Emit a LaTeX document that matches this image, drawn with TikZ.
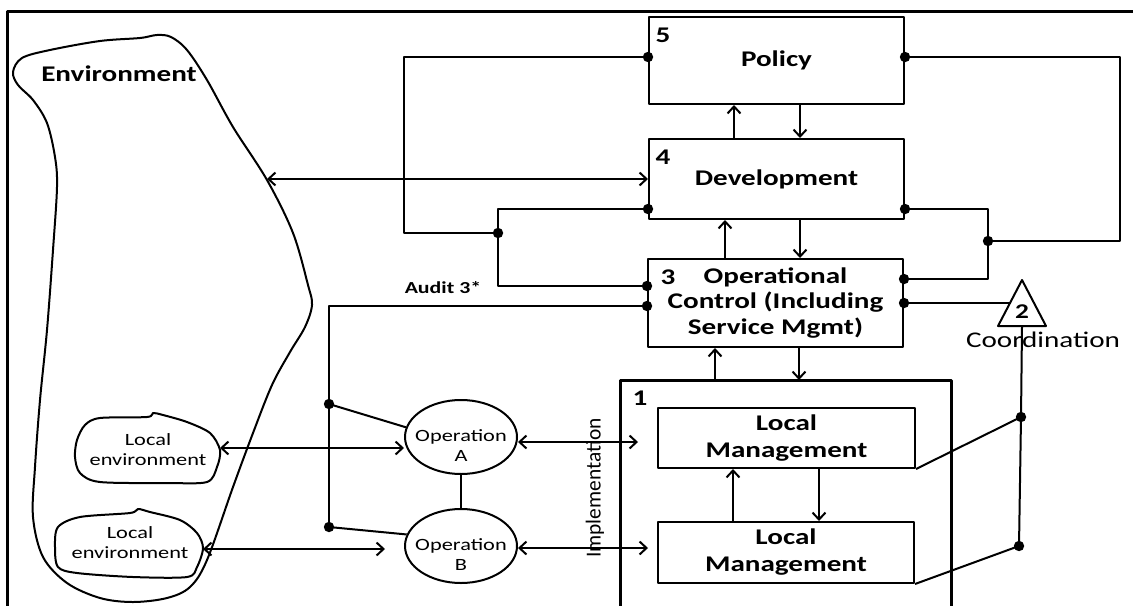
\documentclass[tikz,border=0pt]{standalone}
\usepackage{fontspec}
\setmainfont[FakeStretch=1.3]{Carlito}
\newfontfamily\labelfont{Carlito}
\usetikzlibrary{shapes.geometric,arrows.meta,calc}

\begin{document}
\begin{tikzpicture}[x=0.5pt,y=-0.5pt,
  line width=1pt, line join=round,
  >={Straight Barb[length=3.5pt,width=6.5pt]},
  sysbox/.style={draw, line width=1pt, inner sep=0pt, align=center,
    font=\fontsize{11.2}{13.5}\selectfont\bfseries},
  num/.style={inner sep=0pt, font=\fontsize{11.2}{13}\selectfont\bfseries},
  title/.style={inner sep=0pt, font=\fontsize{11.2}{13}\selectfont\bfseries},
  small/.style={inner sep=0pt, align=center, font=\fontsize{8.6}{10}\selectfont},
  opell/.style={draw, ellipse, minimum width=56pt, minimum height=37pt, inner sep=0pt},
  blob/.style={draw, line width=1pt},
]
\useasboundingbox (0,0) rectangle (1133,605);
\clip (0,0) rectangle (1133,605);

% frame
\draw[line width=1.5pt] (7,615) -- (7,11) -- (1140,11);

% environment outline
\draw[blob] plot[smooth cycle, tension=0.55] coordinates {
  (13,72) (22,58) (50,50) (100,41) (140,38) (157,35) (171,37) (187,50)
  (207,80) (233,127) (267,180) (293,233) (308,285) (312,305) (305,327)
  (290,352) (272,385) (253,433) (233,487) (207,560) (190,587) (167,598)
  (133,602) (100,598) (67,583) (43,557) (33,517) (35,467) (40,400)
  (47,330) (53,250) (57,187) (55,157) (47,123) (33,100) (18,85)};
\node[title] (envlabel) at (119,74) {Environment};

% local environments
\draw[blob] plot[smooth cycle, tension=0.5] coordinates {
  (77,440) (85,425) (100,418) (147,417) (153,413) (163,415) (187,422)
  (210,433) (220,450) (217,467) (207,482) (167,483) (100,482) (80,473) (75,457)};
\node[small] (leA) at (148,450) {Local\\environment};
\draw[blob] plot[smooth cycle, tension=0.5] coordinates {
  (55,547) (58,527) (80,517) (130,513) (138,509) (150,512) (180,520)
  (197,533) (203,548) (197,567) (187,577) (133,577) (77,573) (58,567)};
\node[small] (leB) at (130,543) {Local\\environment};

% system boxes
\node[sysbox, minimum width=127.5pt, minimum height=43.5pt] (pol) at (776.5,60.5) {Policy};
\node[sysbox, minimum width=127.5pt, minimum height=40pt] (dev) at (776.5,179) {Development};
\node[sysbox, minimum width=127.5pt, minimum height=44pt,
  font=\fontsize{11.2}{12.75}\selectfont\bfseries] (opc) at (775.5,303)
  {Operational\\Control (Including\\Service Mgmt)};
\node[num] (n5) at (663,35) {5};
\node[num] (n4) at (663,157) {4};
\node[num] (n3) at (668,277) {3};

% implementation frame (system 1)
\coordinate (b1nw) at (620,380);
\coordinate (b1ne) at (951,380);
\draw[line width=1.5pt] (620,620) -- (b1nw) -- (b1ne) -- (951,620);
\node[num] (n1) at (640,398) {1};
\node[sysbox, minimum width=128.5pt, minimum height=30pt] (lma) at (786.5,438) {Local\\Management};
\node[sysbox, minimum width=128pt, minimum height=30.5pt] (lmb) at (786,552.5) {Local\\Management};
\node[inner sep=0pt, rotate=90, font=\labelfont\fontsize{10.7}{12}\selectfont] (impl) at (595,488)
  {Implementation};

% operations
\node[opell] (opa) at (461,437) {};
\node[small] (opaT) at (461,446) {Operation\\A};
\node[opell] (opb) at (461,546) {};
\node[small] (opbT) at (461,555) {Operation\\B};
\draw (opa) -- (opb);

% vertical channels
\coordinate (x734) at (734,0);
\coordinate (x800) at (800,0);
\coordinate (x725) at (725,0);
\coordinate (x715) at (715,0);
\coordinate (x799) at (799,0);
\coordinate (x733) at (733,0);
\coordinate (x819) at (819,0);
\draw[->] (dev.north -| x734) -- (pol.south -| x734);
\draw[->] (pol.south -| x800) -- (dev.north -| x800);
\draw[->] (opc.north -| x725) -- (dev.south -| x725);
\draw[->] (dev.south -| x800) -- (opc.north -| x800);
\draw[->] (b1nw -| x715) -- (opc.south -| x715);
\draw[->] (opc.south -| x799) -- (b1nw -| x799);
\draw[->] (lmb.north -| x733) -- (lma.south -| x733);
\draw[->] (lma.south -| x819) -- (lmb.north -| x819);

% attachment points
\coordinate (polL) at ([yshift=1.75pt]pol.west);
\coordinate (polR) at ([yshift=1.75pt]pol.east);
\coordinate (devL) at ([yshift=-15pt]dev.west);
\coordinate (devR) at ([yshift=-15pt]dev.east);
\coordinate (opL1) at ([yshift=8.5pt]opc.west);
\coordinate (opL2) at ([yshift=-1.5pt]opc.west);
\coordinate (opR1) at ([yshift=12pt]opc.east);
\coordinate (opR2) at (opc.east);

% left loops
\coordinate (lx1) at (404,0);
\coordinate (lx2) at (498,0);
\coordinate (jL) at (498,233);
\draw (polL) -| (lx1 |- jL) -- (jL);
\draw (devL) -| (lx2 |- opL1) -- (opL1);

% right loops
\coordinate (rx1) at (988,0);
\coordinate (rx2) at (1120,0);
\coordinate (jR) at (988,241);
\draw (polR) -| (rx2 |- jR) -- (jR);
\draw (devR) -| (rx1 |- opR1) -- (opR1);

% audit channel
\coordinate (jA) at (329,404);
\coordinate (jB) at (329,527);
\draw (opL2) -| (jB);
\draw (jA) -- (opa.170);
\draw (jB) -- (opb.168);
\node[title, font=\fontsize{8.4}{10}\selectfont\bfseries] (audit) at (443,288) {Audit 3*};

% coordination
\coordinate (tA) at (1022,280);
\coordinate (tL) at (998,326);
\coordinate (tR) at (1046,326);
\coordinate (tB) at (1022,326);
\draw (tA) -- (tL) -- (tR) -- cycle;
\node[num, font=\fontsize{10.5}{12}\selectfont\bfseries] (n2) at (1022,312) {2};
\draw (opR2) -- ($(tA)!0.5!(tL)$);
\coordinate (cA) at (1021,417);
\coordinate (cB) at (1019,546);
\draw (tB) -- (cA) -- (cB);
\draw (lma.south east) -- (cA);
\draw (lmb.south east) -- (cB);
\node[inner sep=0pt, font=\fontsize{11.2}{13}\selectfont] (coord) at (1043,340) {Coordination};

% environment exchanges
\coordinate (envR) at (267,179);
\draw[<->] (envR) -- (envR -| dev.west);
\coordinate (leAe) at (220,448);
\draw[<->] (leAe) -- (leAe -| opa.west);
\coordinate (leBe) at (203,549);
\coordinate (leBt) at (385,549);
\draw[<->] (leBe) -- (leBt);
\coordinate (aT) at (638,442);
\draw[<->] (aT -| opa.east) -- (aT);
\coordinate (bT) at (648,548);
\draw[<->] (bT -| opb.east) -- (bT);

% junction dots
\foreach \p in {polL,polR,devL,devR,opL1,opL2,opR1,opR2,jL,jR,jA,jB,cA,cB}
  \fill (\p) circle (2.6pt);
\end{tikzpicture}
\end{document}
